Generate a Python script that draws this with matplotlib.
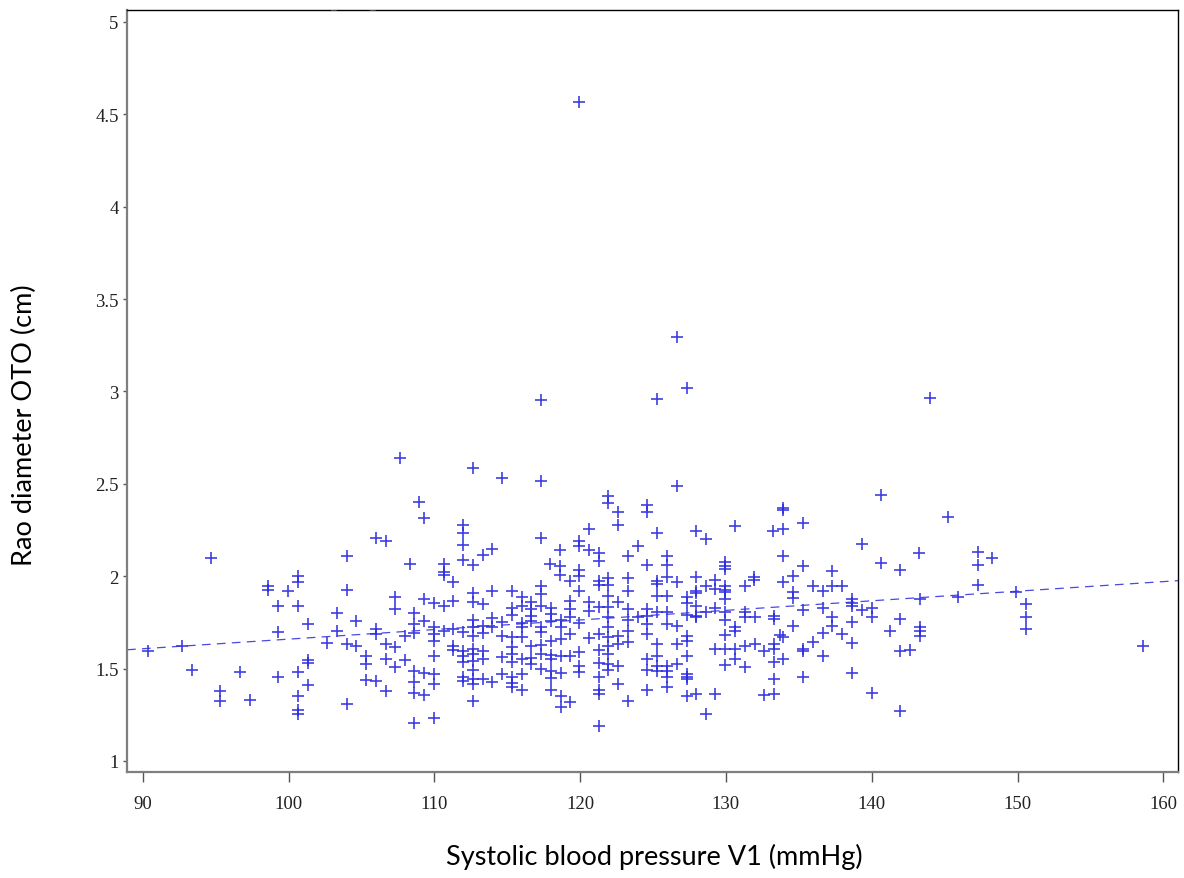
import matplotlib
import matplotlib.pyplot as plt
from matplotlib.ticker import FormatStrFormatter
import numpy as np

matplotlib.use('agg')

# systolic blood pressure V1 (mmHg)
sbp_v1 = [
    # left part (90 - 107)
    94.68, 98.62, 98.62, 100.63, 100.63, 103.99, 105.98, 106.69, 99.99, 103.99,
    99.30, 100.63, 103.30, 104.63, 101.30, 99.30, 103.30, 105.98, 105.98, 90.34,
    92.67, 102.62, 103.99, 104.63, 106.69, 105.29, 105.29, 106.69, 101.30, 101.30,
    93.36, 96.67, 99.30, 100.63, 105.29, 105.98, 101.30, 106.69, 95.33, 95.33,
    97.34, 100.63, 100.63, 100.63, 103.99,
    # upper middle (2.0 - 2.65)
    107.65, 112.63, 114.66, 117.32, 108.95, 109.32, 111.94, 111.94, 111.94, 111.94,
    113.98, 113.32, 112.63, 108.33, 110.66, 110.66, 110.66, 111.26, 117.32, 117.32,
    121.94, 121.94, 122.62, 122.62, 124.57, 124.57, 125.25, 120.62, 119.93, 119.93,
    120.62, 118.62, 121.30, 121.30, 123.95, 123.30, 124.57, 117.94, 118.62, 118.62,
    119.93, 119.93, 119.31, 121.30, 121.30, 121.94, 121.94, 123.30, 125.25, 125.25,
    # dense middle (107 - 125)
    107.31, 107.31, 107.31, 107.31,
    109.32, 109.32, 109.32, 109.32,
    109.98, 109.98, 109.98, 109.98, 109.98, 109.98, 109.98, 109.98,
    110.66, 110.66,
    111.30, 111.30, 111.30, 111.30,
    112.63, 112.63, 112.63, 112.63, 112.63, 112.63, 112.63, 112.63, 112.63, 112.63, 112.63, 112.63,
    113.32, 113.32, 113.32, 113.32, 113.32, 113.32,
    113.98, 113.98, 113.98, 113.98,
    115.35, 115.35, 115.35, 115.35, 115.35, 115.35, 115.35, 115.35, 115.35, 115.35,
    115.99, 115.99, 115.99, 115.99, 115.99, 115.99, 115.99, 115.99,
    117.32, 117.32, 117.32, 117.32, 117.32, 117.32, 117.32,
    119.93, 119.93, 119.93, 119.93, 119.93,
    121.30, 121.30, 121.30, 121.30, 121.30, 121.30, 121.30, 121.30,
    121.94, 121.94, 121.94, 121.94, 121.94, 121.94, 121.94, 121.94, 121.94,
    123.30, 123.30, 123.30, 123.30, 123.30, 123.30,
    125.25, 125.25, 125.25, 125.25, 125.25, 125.25,
    108.63, 108.63, 108.63, 108.63, 108.63, 108.63, 108.63,
    116.64, 116.64, 116.64, 116.64, 116.64, 116.64, 116.64,
    117.98, 117.98, 117.98, 117.98, 117.98, 117.98, 117.98, 117.98, 117.98,
    119.31, 119.31, 119.31, 119.31, 119.31, 119.31,
    120.62, 120.62, 120.62,
    122.62, 122.62, 122.62, 122.62, 122.62,
    123.95,
    124.57, 124.57, 124.57, 124.57, 124.57, 124.57, 124.57,
    108.00, 108.00,
    111.94, 111.94, 111.94, 111.94, 111.94, 111.94,
    114.66, 114.66, 114.66, 114.66,
    118.66, 118.66, 118.66, 118.66, 118.66, 118.66, 118.66,
    # upper right (1.95 - 2.5)
    126.62, 140.64, 133.94, 133.94, 127.95, 128.62, 130.63, 133.25, 133.94, 135.27,
    139.32, 143.27, 125.94, 125.94, 129.96, 129.96, 129.96, 133.94, 135.27, 140.64,
    141.94, 137.26, 134.62, 125.94, 126.62, 127.95, 128.62, 129.25, 129.96, 131.31,
    131.95, 131.95, 133.94, 135.95, 137.26, 137.94,
    # lower right (125 - 144)
    125.94, 125.94, 125.94, 125.94, 125.94, 125.94, 125.94,
    127.31, 127.31, 127.31, 127.31, 127.31, 127.31, 127.31, 127.31, 127.31, 127.31,
    127.95, 127.95, 127.95, 127.95, 127.95, 127.95,
    129.25, 129.25, 129.25, 129.25,
    129.96, 129.96, 129.96, 129.96, 129.96, 129.96, 129.96, 129.96,
    134.62, 134.62, 134.62,
    136.68, 136.68, 136.68, 136.68,
    128.62, 128.62,
    131.31, 131.31, 131.31, 131.31,
    131.99, 131.99,
    133.32, 133.32, 133.32, 133.32, 133.32, 133.32, 133.32,
    135.27, 135.27, 135.27, 135.27,
    137.26, 137.26,
    138.63, 138.63, 138.63, 138.63, 138.63, 138.63,
    139.32,
    140.00, 140.00, 140.00,
    141.94, 141.94, 141.94,
    143.31, 143.31, 143.31, 143.31,
    141.26,
    126.62, 126.62, 126.62,
    130.63, 130.63, 130.63, 130.63,
    132.61, 132.61,
    133.71,
    133.94, 133.94,
    135.99,
    137.94,
    142.63,
    # far right
    145.25, 147.27, 147.27, 147.27, 148.23, 145.94, 149.90, 150.58, 150.58, 150.58,
    158.59,
    # outliers
    119.94, 126.62, 127.31, 117.30, 125.25, 144.00,
]

# Rao diameter OTO (cm), same order as sbp_v1
rao_oto = [
    2.097, 1.949, 1.926, 2.000, 1.970, 2.108, 2.209, 2.190, 1.918, 1.927,
    1.837, 1.837, 1.799, 1.760, 1.742, 1.697, 1.705, 1.714, 1.687, 1.597,
    1.624, 1.639, 1.633, 1.621, 1.633, 1.570, 1.525, 1.552, 1.547, 1.529,
    1.493, 1.483, 1.456, 1.483, 1.438, 1.431, 1.413, 1.380, 1.377, 1.326,
    1.330, 1.350, 1.276, 1.254, 1.309,
    2.638, 2.584, 2.532, 2.514, 2.404, 2.314, 2.277, 2.234, 2.169, 2.090,
    2.148, 2.115, 2.061, 2.066, 2.066, 2.025, 2.007, 1.967, 2.209, 1.949,
    2.436, 2.396, 2.350, 2.277, 2.388, 2.346, 2.234, 2.253, 2.192, 2.162,
    2.144, 2.144, 2.126, 2.084, 2.162, 2.111, 2.061, 2.066, 2.057, 2.008,
    2.034, 2.003, 1.976, 1.976, 1.953, 1.989, 1.953, 1.989, 1.976, 1.958,
    1.889, 1.823, 1.615, 1.507,
    1.877, 1.756, 1.475, 1.359,
    1.853, 1.723, 1.687, 1.651, 1.570, 1.471, 1.417, 1.233,
    1.841, 1.705,
    1.864, 1.714, 1.624, 1.601,
    1.908, 1.859, 1.763, 1.723, 1.678, 1.606, 1.579, 1.543, 1.493, 1.444, 1.417, 1.323,
    1.850, 1.733, 1.691, 1.597, 1.552, 1.444,
    1.918, 1.774, 1.723, 1.426,
    1.918, 1.827, 1.792, 1.669, 1.615, 1.579, 1.534, 1.456, 1.421, 1.399,
    1.889, 1.841, 1.745, 1.723, 1.673, 1.552, 1.471, 1.384,
    1.904, 1.841, 1.727, 1.697, 1.630, 1.579, 1.498,
    1.918, 1.745, 1.588, 1.516, 1.480,
    1.836, 1.687, 1.601, 1.529, 1.453, 1.384, 1.363, 1.191,
    1.895, 1.836, 1.778, 1.723, 1.669, 1.624, 1.579, 1.525, 1.493,
    1.922, 1.823, 1.763, 1.705, 1.642, 1.323,
    1.895, 1.805, 1.633, 1.570, 1.516, 1.486,
    1.800, 1.742, 1.691, 1.486, 1.426, 1.366, 1.204,
    1.859, 1.823, 1.787, 1.760, 1.624, 1.557, 1.525,
    1.830, 1.795, 1.760, 1.648, 1.575, 1.552, 1.486, 1.449, 1.384,
    1.868, 1.823, 1.778, 1.687, 1.570, 1.318,
    1.859, 1.814, 1.666,
    1.859, 1.678, 1.633, 1.516, 1.417,
    1.778,
    1.823, 1.787, 1.742, 1.687, 1.552, 1.493, 1.384,
    1.678, 1.547,
    1.697, 1.597, 1.570, 1.534, 1.453, 1.435,
    1.751, 1.678, 1.565, 1.471,
    1.763, 1.727, 1.660, 1.570, 1.475, 1.354, 1.291,
    2.490, 2.441, 2.369, 2.360, 2.243, 2.202, 2.270, 2.243, 2.256, 2.288,
    2.175, 2.126, 2.111, 2.063, 2.075, 2.057, 2.039, 2.111, 2.057, 2.070,
    2.034, 2.027, 2.003, 1.994, 1.967, 1.994, 1.949, 1.981, 1.949, 1.949,
    1.994, 1.981, 1.970, 1.949, 1.949, 1.949,
    1.895, 1.805, 1.742, 1.516, 1.486, 1.456, 1.399,
    1.886, 1.853, 1.790, 1.678, 1.651, 1.570, 1.471, 1.453, 1.444, 1.354,
    1.922, 1.908, 1.841, 1.787, 1.778, 1.363,
    1.930, 1.828, 1.606, 1.363,
    1.926, 1.913, 1.877, 1.805, 1.763, 1.683, 1.606, 1.521,
    1.913, 1.882, 1.733,
    1.918, 1.828, 1.691, 1.570,
    1.805, 1.254,
    1.805, 1.778, 1.624, 1.507,
    1.778, 1.633,
    1.787, 1.769, 1.633, 1.606, 1.534, 1.444, 1.363,
    1.817, 1.606, 1.597, 1.453,
    1.778, 1.733,
    1.877, 1.853, 1.841, 1.751, 1.637, 1.475,
    1.817,
    1.828, 1.778, 1.366,
    1.769, 1.597, 1.268,
    1.877, 1.723, 1.705, 1.678,
    1.705,
    1.733, 1.633, 1.525,
    1.727, 1.705, 1.606, 1.552,
    1.594, 1.359,
    1.683,
    1.669, 1.552,
    1.646,
    1.687,
    1.601,
    2.323, 2.130, 2.061, 1.955, 2.097, 1.886, 1.913, 1.850, 1.778, 1.714,
    1.621,
    4.569, 3.293, 3.019, 2.956, 2.961, 2.965,
]

# dashed trend line (read at both ends of the frame)
trend_intercept = 1.1405
trend_slope = 0.00519

x_ticks = [90, 100, 110, 120, 130, 140, 150, 160]
y_ticks = [1, 1.5, 2, 2.5, 3, 3.5, 4, 4.5, 5]

fig = plt.figure(figsize=(11.84, 8.79), dpi=100)
ax = fig.add_axes([0.1073, 0.1203, 0.8879, 0.8672])

ax.plot(sbp_v1, rao_oto, linestyle='none', marker='+', markersize=9,
        markeredgewidth=1.2, color='#2a2ade', alpha=0.9)

xlim = (88.92, 161.03)
line_x = np.array(xlim)
ax.plot(line_x, trend_intercept + trend_slope * line_x, color='#3535e0',
        linewidth=0.9, linestyle=(0, (7, 5)), alpha=0.9)

ax.set_xlim(*xlim)
ax.set_ylim(0.939, 5.065)
ax.set_xticks(x_ticks)
ax.set_yticks(y_ticks)
ax.yaxis.set_major_formatter(FormatStrFormatter('%g'))

for side in ['left', 'bottom']:
    ax.spines[side].set_color('#7f7f7f')
    ax.spines[side].set_linewidth(1.6)
for side in ['top', 'right']:
    ax.spines[side].set_color('black')
    ax.spines[side].set_linewidth(1.0)

ax.tick_params(axis='x', direction='out', length=7.5, width=1.0, color='#555555', pad=9)
ax.tick_params(axis='y', direction='out', length=3, width=1.0, color='#555555', pad=3)
for lab in ax.get_xticklabels() + ax.get_yticklabels():
    lab.set_fontfamily('Liberation Serif')
    lab.set_fontsize(13.5)
    lab.set_color('#222222')

ax.set_xlabel('Systolic blood pressure V1 (mmHg)', fontfamily='Lato', fontsize=19.5)
ax.set_ylabel('Rao diameter OTO (cm)', fontfamily='Lato', fontsize=19.5)
ax.xaxis.set_label_coords(0.502, -0.093)
ax.yaxis.set_label_coords(-0.086, 0.457)

# clipped fragments of text at the top edge of the original
fig.text(333 / 1184, 1 - 8 / 879, '_', fontsize=8, color='#555555', ha='center')
fig.text(372 / 1184, 1 - 8 / 879, '_', fontsize=8, color='#555555', ha='center')

fig.savefig('out.png', dpi=100)
